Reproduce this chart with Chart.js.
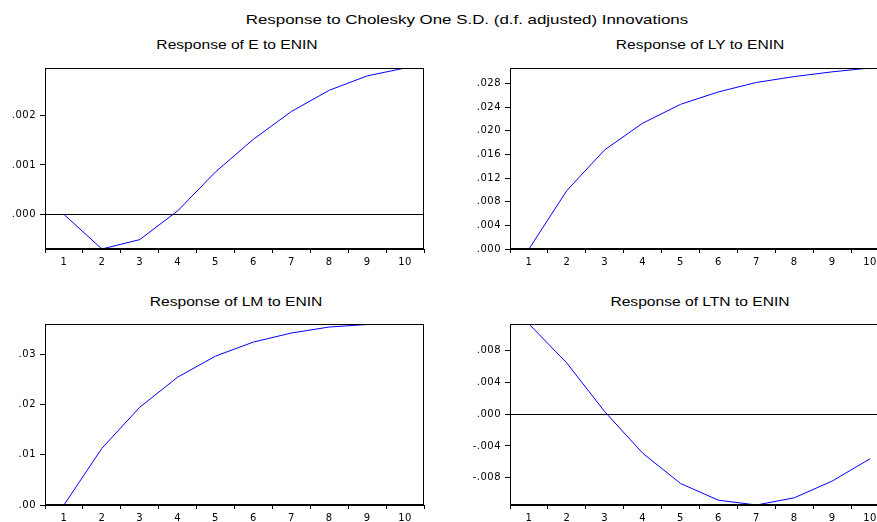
<!DOCTYPE html>
<html>
<head>
<meta charset="utf-8">
<script src="https://cdn.jsdelivr.net/npm/chart.js@4.4.1/dist/chart.umd.min.js"></script>
<style>
html, body { margin: 0; padding: 0; background: #fff; overflow: hidden; width: 877px; height: 522px; }
.t { position: absolute; white-space: nowrap; color: #000; font-family: "Liberation Sans", Arial, sans-serif;
     transform: translateX(-50%) scaleX(1.3); transform-origin: center; }
#title { font-size: 13px; line-height: 15px; }
.sub { font-size: 12px; line-height: 14px; }
.p { position: absolute; }
</style>
</head>
<body>
<div id="title" class="t" style="left:467px;top:12px">Response to Cholesky One S.D. (d.f. adjusted) Innovations</div>
<div class="t sub" style="left:237px;top:38px">Response of E to ENIN</div>
<div class="t sub" style="left:700px;top:38px">Response of LY to ENIN</div>
<div class="t sub" style="left:236px;top:294.5px">Response of LM to ENIN</div>
<div class="t sub" style="left:700px;top:294.5px">Response of LTN to ENIN</div>
<div class="p" style="left:0px;top:30px;width:430px;height:241px"><canvas id="c1"></canvas></div>
<div class="p" style="left:465px;top:30px;width:430px;height:241px"><canvas id="c2"></canvas></div>
<div class="p" style="left:0px;top:286px;width:430px;height:241px"><canvas id="c3"></canvas></div>
<div class="p" style="left:465px;top:286px;width:430px;height:241px"><canvas id="c4"></canvas></div>
<script>
// impulse responses, periods 1..10
const periods = ['1', '2', '3', '4', '5', '6', '7', '8', '9', '10'];
const respE   = [0.0000, -0.0007, -0.00051, 0.00007, 0.00086, 0.00152, 0.00208, 0.00251, 0.00280, 0.00296];
const respLY  = [0.0000, 0.0099, 0.0168, 0.0213, 0.0245, 0.0266, 0.0282, 0.0292, 0.0300, 0.03065];
const respLM  = [0.0000, 0.0113, 0.0195, 0.0255, 0.0297, 0.0325, 0.0343, 0.0355, 0.0360, 0.0361];
const respLTN = [0.0113, 0.0064, 0.0003, -0.0049, -0.0087, -0.0108, -0.0114, -0.0105, -0.0084, -0.0056];

const TICKFONT = { family: '"DejaVu Sans", sans-serif', size: 10 };

// frame round the plot area (EViews style) + slightly wider tick text
const boxPlugin = {
    id: 'box',
    beforeDraw(chart) { chart.ctx.letterSpacing = '0.5px'; },
    afterDraw(chart) {
        const a = chart.chartArea, c = chart.ctx;
        c.save();
        c.strokeStyle = '#000';
        c.lineWidth = 1;
        c.strokeRect(a.left + 0.5, a.top + 0.5, a.right - a.left - 1, a.bottom - a.top - 1);
        c.restore();
    }
};

function fmt(v, dec) {
    let s = Math.abs(v) < 1e-12 ? (0).toFixed(dec) : v.toFixed(dec);
    return s.replace('0.', '.');
}

function makePanel(id, D, step, dec) {
    const ctx = document.getElementById(id).getContext('2d');
    return new Chart(ctx, {
        type: 'line',
        data: {
            labels: periods,
            datasets: [{
                data: D, borderColor: '#0000ff', borderWidth: 1,
                pointRadius: 0, tension: 0, fill: false
            }]
        },
        plugins: [boxPlugin],
        options: {
            responsive: true, maintainAspectRatio: false, animation: false,
            layout: { padding: { left: 0, right: 6, top: 38, bottom: 0 } },
            plugins: {
                legend: { display: false },
                tooltip: { enabled: false },
                title: { display: false }
            },
            scales: {
                x: {
                    offset: true,
                    grid: { offset: true, color: 'rgba(0,0,0,0)', tickColor: '#000', tickLength: 4, drawOnChartArea: false },
                    border: { display: true, color: '#000' },
                    ticks: { color: '#000', font: TICKFONT, padding: 3, autoSkip: false, maxRotation: 0 },
                    afterFit: s => { s.height = 22; }
                },
                y: {
                    min: Math.min(...D), max: Math.max(...D),
                    grid: {
                        color: c => (c.tick && Math.abs(c.tick.value) < 1e-12) ? '#000' : 'rgba(0,0,0,0)',
                        tickColor: '#000', tickLength: 5
                    },
                    border: { display: true, color: '#000' },
                    ticks: {
                        stepSize: step, color: '#000', padding: 4,
                        font: TICKFONT,
                        callback: v => fmt(v, dec)
                    },
                    afterBuildTicks: s => {
                        s.ticks = s.ticks.filter(t => Math.abs(t.value / step - Math.round(t.value / step)) < 1e-6);
                    },
                    afterFit: s => { s.width = 45; }
                }
            }
        }
    });
}

makePanel('c1', respE, 0.001, 3);
makePanel('c2', respLY, 0.004, 3);
makePanel('c3', respLM, 0.01, 2);
makePanel('c4', respLTN, 0.004, 3);
</script>
</body>
</html>
